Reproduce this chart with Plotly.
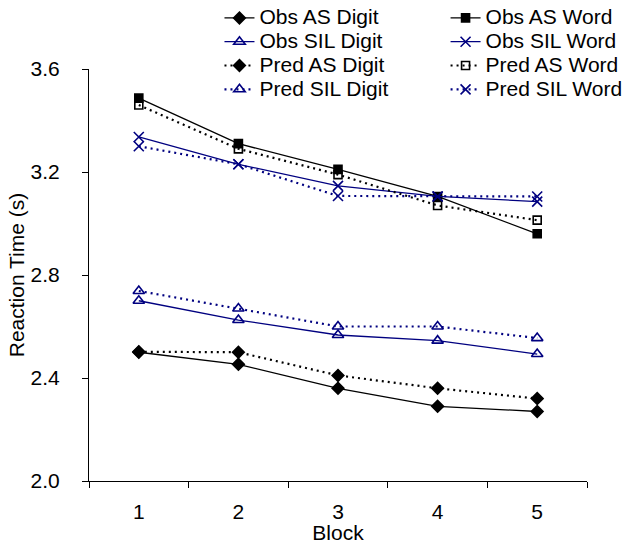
import plotly.graph_objects as go

blocks = ["1", "2", "3", "4", "5"]

obs_as_digit = [2.50, 2.453, 2.36, 2.29, 2.27]
obs_as_word = [3.487, 3.31, 3.21, 3.105, 2.96]
obs_sil_digit = [2.70, 2.625, 2.567, 2.545, 2.493]
obs_sil_word = [3.336, 3.23, 3.146, 3.105, 3.085]
pred_as_digit = [2.502, 2.50, 2.41, 2.36, 2.32]
pred_as_word = [3.46, 3.29, 3.19, 3.07, 3.013]
pred_sil_digit = [2.738, 2.67, 2.60, 2.60, 2.555]
pred_sil_word = [3.30, 3.23, 3.107, 3.105, 3.105]

BLACK = "#000000"
NAVY = "#000080"
DOT = "2px,4px"

series = [
    ("Obs AS Digit", obs_as_digit, BLACK, "solid", 1.3, "diamond", 9, "legend"),
    ("Obs SIL Digit", obs_sil_digit, NAVY, "solid", 1.3, "triangle-up-open", 10, "legend"),
    ("Pred AS Digit", pred_as_digit, BLACK, DOT, 2.2, "diamond", 9, "legend"),
    ("Pred SIL Digit", pred_sil_digit, NAVY, DOT, 2.2, "triangle-up-open", 10, "legend"),
    ("Obs AS Word", obs_as_word, BLACK, "solid", 1.3, "square", 8, "legend2"),
    ("Obs SIL Word", obs_sil_word, NAVY, "solid", 1.3, "x-thin-open", 10, "legend2"),
    ("Pred AS Word", pred_as_word, BLACK, DOT, 2.2, "square-open", 8, "legend2"),
    ("Pred SIL Word", pred_sil_word, NAVY, DOT, 2.2, "x-thin-open", 10, "legend2"),
]

fig = go.Figure()
for name, vals, color, dash, lw, sym, size, lg in series:
    fig.add_trace(go.Scatter(
        x=blocks, y=vals,
        name="<span style='font-size:21px'>" + name + "</span>",
        mode="lines+markers",
        line=dict(color=color, dash=dash, width=lw),
        marker=dict(symbol=sym, size=size, color=color,
                    line=dict(color=color, width=1.6)),
        legend=lg,
    ))

FONT = "Arial, Liberation Sans, sans-serif"
legend_common = dict(
    font=dict(family=FONT, size=16, color="black"),
    bgcolor="rgba(0,0,0,0)", borderwidth=0,
    yanchor="top", xanchor="left", tracegroupgap=0,
    orientation="v",
)

fig.update_layout(
    width=626, height=544,
    margin=dict(l=89, r=39, t=69, b=63, autoexpand=False),
    paper_bgcolor="white", plot_bgcolor="white",
    font=dict(family=FONT, size=21, color="black"),
    showlegend=True,
    legend=dict(x=0.262, y=1.165, **legend_common),
    legend2=dict(x=0.716, y=1.165, **legend_common),
    xaxis=dict(
        type="category", range=[-0.5, 4.5],
        showline=True, linecolor="black", linewidth=1,
        ticks="outside", tickson="boundaries", ticklen=6, tickcolor="black",
        showgrid=False, zeroline=False, automargin=False,
        title=dict(text="Block", standoff=2, font=dict(size=21)),
        ticklabelstandoff=12,
    ),
    yaxis=dict(
        range=[2.0, 3.6], tickvals=[2.0, 2.4, 2.8, 3.2, 3.6],
        ticktext=["2.0", "2.4", "2.8", "3.2", "3.6"],
        showline=True, linecolor="black", linewidth=1,
        ticks="outside", ticklen=6, tickcolor="black",
        showgrid=False, zeroline=False, automargin=False,
        ticklabelstandoff=18,
        title=dict(text="Reaction Time (s)", standoff=0, font=dict(size=21)),
    ),
)

fig.write_html("out.html")
